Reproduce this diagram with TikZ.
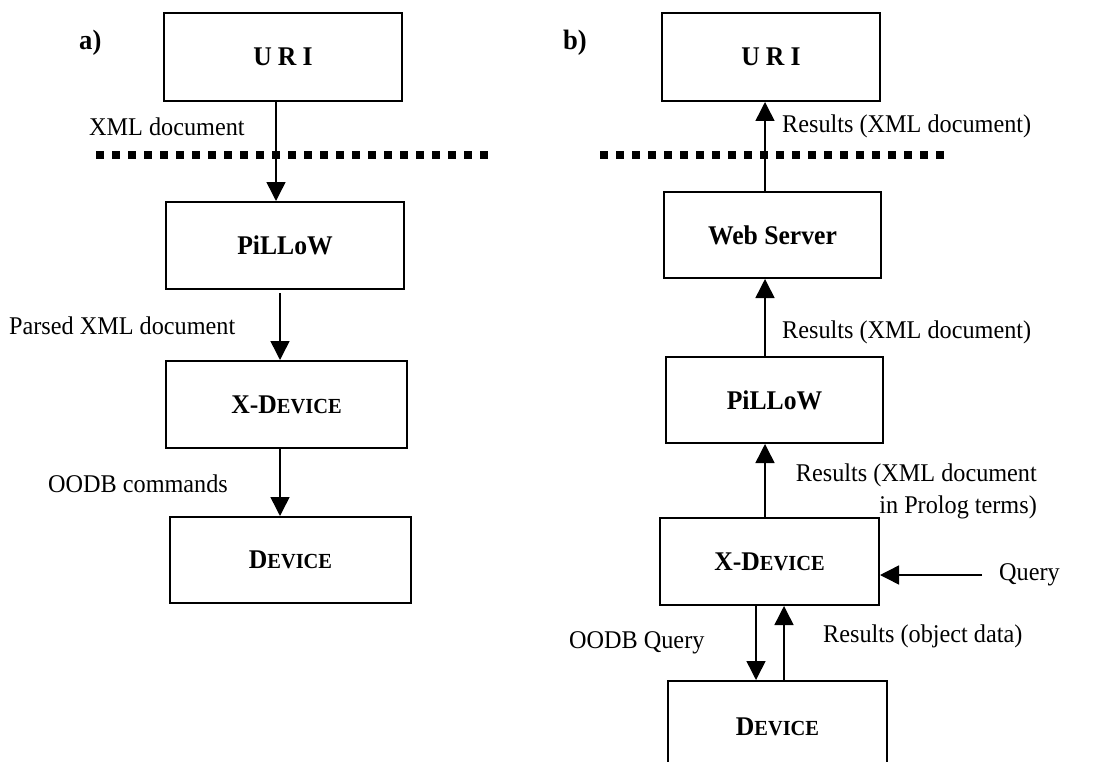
\documentclass[tikz,border=0pt]{standalone}
\usepackage{fontspec}
\setmainfont{Liberation Serif}[FakeStretch=0.95]
\usetikzlibrary{arrows.meta}
\newcommand\smcp[1]{{\fontsize{21.5}{24}\selectfont #1}}
\begin{document}
\begin{tikzpicture}[x=1pt,y=-1pt,
  boxx/.style={draw, line width=2pt, inner sep=0pt, font=\fontsize{27}{30}\selectfont\bfseries},
  lbl/.style={anchor=base west, inner sep=0pt, font=\fontsize{25.5}{32}\selectfont},
  tag/.style={anchor=base west, inner sep=0pt, font=\fontsize{28}{30}\selectfont\bfseries},
  arr/.style={line width=1.5pt, -{Triangle[length=19pt,width=19pt]}},
  sep/.style={line width=8pt, dash pattern=on 8pt off 8pt, line cap=butt}]
\useasboundingbox (0,0) rectangle (1115,762);
\clip (0,0) rectangle (1115,762);
\fill[white] (0,0) rectangle (1115,762);

% ---------- panel a ----------
\node[tag] (ta) at (79,50) {a)};
\node[boxx, minimum width=238pt, minimum height=88pt] (uriL) at (283,57) {U\kern6pt R\kern6pt I};
\node[boxx, minimum width=238pt, minimum height=87pt] (pilL) at (285,245.5) {PiLLoW};
\node[boxx, minimum width=241pt, minimum height=87pt] (xdL) at (286.5,404.5) {X-D\smcp{EVICE}};
\node[boxx, minimum width=241pt, minimum height=86pt] (devL) at (290.5,560) {D\smcp{EVICE}};

\coordinate (sLa) at (96,155);
\coordinate (sLb) at (490,155);
\draw[sep] (sLa) -- (sLb);

\draw[arr] ([xshift=-7pt]uriL.south) -- ([xshift=-9pt]pilL.north);
\draw[arr] ([xshift=-5pt,yshift=-3pt]pilL.south) -- ([xshift=-6.5pt]xdL.north);
\draw[arr] ([xshift=-6.5pt]xdL.south) -- ([xshift=-10.5pt]devL.north);

\node[lbl] (l1) at (89,136) {XML document};
\node[lbl] (l2) at (9,334) {Parsed XML document};
\node[lbl] (l3) at (48,492) {OODB commands};

% ---------- panel b ----------
\node[tag] (tb) at (563,50) {b)};
\node[boxx, minimum width=218pt, minimum height=88pt] (uriR) at (771,57) {U\kern6pt R\kern6pt I};
\node[boxx, minimum width=217pt, minimum height=86pt] (web) at (772.5,235) {Web Server};
\node[boxx, minimum width=217pt, minimum height=86pt] (pilR) at (774.5,400) {PiLLoW};
\node[boxx, minimum width=219pt, minimum height=87pt] (xdR) at (769.5,561.5) {X-D\smcp{EVICE}};
\node[boxx, minimum width=219pt, minimum height=92pt] (devR) at (777.5,727) {D\smcp{EVICE}};

\coordinate (sRa) at (600,155);
\coordinate (sRb) at (949,155);
\draw[sep] (sRa) -- (sRb);

\draw[arr] ([xshift=-7.5pt]web.north) -- ([xshift=-6pt]uriR.south);
\draw[arr] ([xshift=-9.5pt]pilR.north) -- ([xshift=-7.5pt]web.south);
\draw[arr] ([xshift=-4.5pt]xdR.north) -- ([xshift=-9.5pt]pilR.south);
\draw[arr] ([xshift=-13.5pt]xdR.south) -- ([xshift=-21.5pt]devR.north);
\draw[arr] ([xshift=6.5pt]devR.north) -- ([xshift=14.5pt]xdR.south);
\coordinate (qs) at (982,575);
\draw[arr] (qs) -- (xdR.east |- qs);

\node[lbl] (r1) at (782,133) {Results (XML document)};
\node[lbl] (r2) at (782,338) {Results (XML document)};
\node[lbl, anchor=base east, align=right] (r3) at (1037,513) {Results (XML document\\in Prolog terms)};
\node[lbl] (rq) at (999,580) {Query};
\node[lbl] (r4) at (569,648) {OODB Query};
\node[lbl] (r5) at (823,642) {Results (object data)};
\end{tikzpicture}
\end{document}
